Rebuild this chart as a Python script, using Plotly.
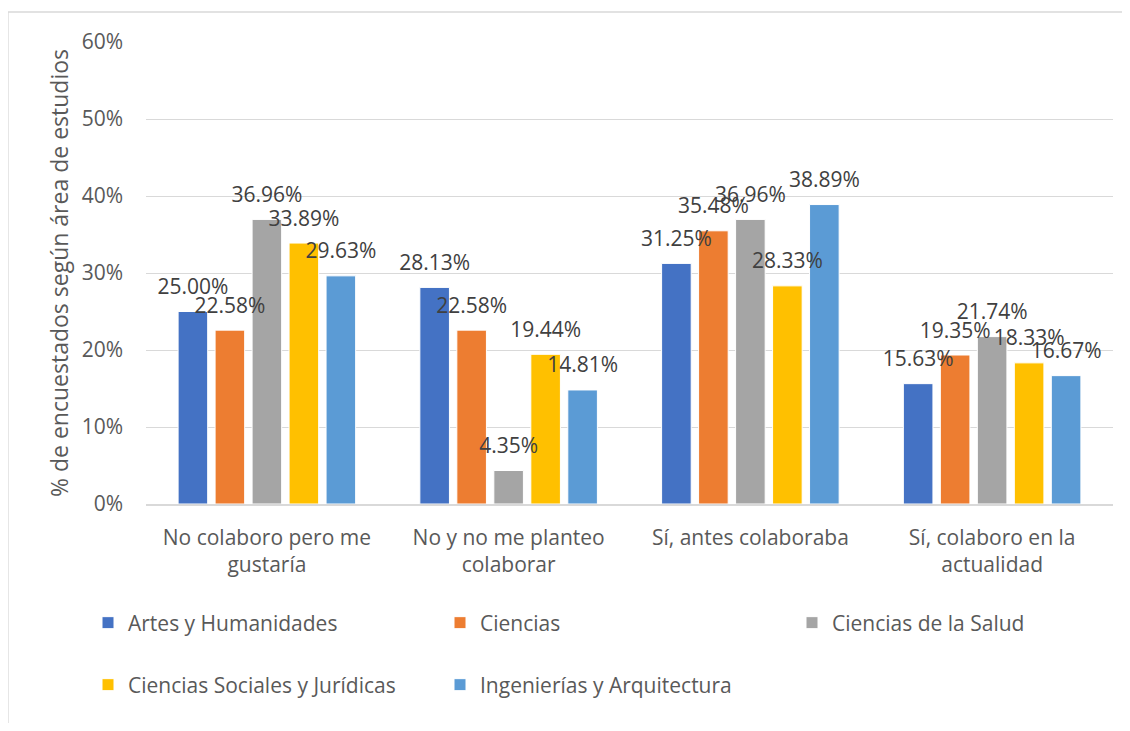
import plotly.graph_objects as go

categories = ["No colaboro pero me<br>gustaría", "No y no me planteo<br>colaborar",
              "Sí, antes colaboraba", "Sí, colaboro en la<br>actualidad"]
series_names = ["Artes y Humanidades", "Ciencias", "Ciencias de la Salud",
                "Ciencias Sociales y Jurídicas", "Ingenierías y Arquitectura"]
artes = [0.2500, 0.2813, 0.3125, 0.1563]
ciencias = [0.2258, 0.2258, 0.3548, 0.1935]
salud = [0.3696, 0.0435, 0.3696, 0.2174]
sociales = [0.3389, 0.1944, 0.2833, 0.1833]
ingenierias = [0.2963, 0.1481, 0.3889, 0.1667]
y_ticks = [0, 0.1, 0.2, 0.3, 0.4, 0.5, 0.6]

colors = ["#4472C4", "#ED7D31", "#A5A5A5", "#FFC000", "#5B9BD5"]
values = [artes, ciencias, salud, sociales, ingenierias]
FONT = "Open Sans"
FS = 21
OFF = 8  # page body margin
W, H = 1130 - 2 * OFF, 731 - 2 * OFF
ml, mt = 146 - OFF, 42 - OFF
mr = W - (1113 - OFF)
mb = H - (504 - OFF)
pw, ph = W - ml - mr, H - mt - mb

fig = go.Figure()
for i, (name, vals) in enumerate(zip(series_names, values)):
    fig.add_trace(go.Bar(
        x=categories, y=vals, name=name,
        marker=dict(color=colors[i], line=dict(color="white", width=1)),
        legend="legend" if i < 3 else "legend2",
        offsetgroup=str(i),
        hoverinfo="skip",
    ))
for i, (name, vals) in enumerate(zip(series_names, values)):
    fig.add_trace(go.Scatter(
        x=categories, y=vals, mode="markers+text",
        text=[f"{v*100:.2f}%" for v in vals],
        textposition="top center",
        textfont=dict(family=FONT, size=FS, color="#404040"),
        marker=dict(size=18, color="rgba(0,0,0,0)"),
        offsetgroup=str(i), orientation="v",
        showlegend=False, hoverinfo="skip", cliponaxis=False,
    ))


def py(pix):
    # pix: page pixel y
    return (H - mb - (pix - OFF)) / ph


def px(pix):
    return (pix - OFF - ml) / pw


fig.update_layout(
    width=W, height=H,
    margin=dict(l=ml, r=mr, t=mt, b=mb, autoexpand=False),
    paper_bgcolor="white", plot_bgcolor="white",
    barmode="group", bargap=0.235, bargroupgap=0.2,
    scattermode="group", scattergap=0.235,
    font=dict(family=FONT, size=FS, color="#595959"),
    xaxis=dict(showgrid=False, showline=True, linecolor="#d9d9d9", linewidth=1.5,
               ticks="", tickfont=dict(size=FS, color="#595959"),
               ticklabelstandoff=14, automargin=False),
    yaxis=dict(range=[0, 0.6], tickvals=y_ticks, tickformat=".0%",
               showgrid=True, gridcolor="#d9d9d9", gridwidth=1.3,
               zeroline=False, showline=False, ticks="",
               ticklabelstandoff=22, automargin=False,
               tickfont=dict(size=FS, color="#595959"),
               title=dict(text="% de encuestados según área de estudios",
                          font=dict(size=23, color="#595959"), standoff=6)),
    legend=dict(orientation="h", x=px(88), xanchor="left", y=py(623), yanchor="middle",
                entrywidth=307, entrywidthmode="pixels", itemwidth=30,
                font=dict(size=FS, color="#595959"), bgcolor="rgba(0,0,0,0)",
                traceorder="normal"),
    legend2=dict(orientation="h", x=px(88), xanchor="left", y=py(685), yanchor="middle",
                 entrywidth=307, entrywidthmode="pixels", itemwidth=30,
                 font=dict(size=FS, color="#595959"), bgcolor="rgba(0,0,0,0)",
                 traceorder="normal"),
    shapes=[dict(type="rect", xref="paper", yref="paper",
                 x0=px(8), x1=px(1140), y0=py(760), y1=py(12),
                 line=dict(color="#d9d9d9", width=1.3), fillcolor="rgba(0,0,0,0)",
                 layer="below")],
)

fig.write_html("out.html")
